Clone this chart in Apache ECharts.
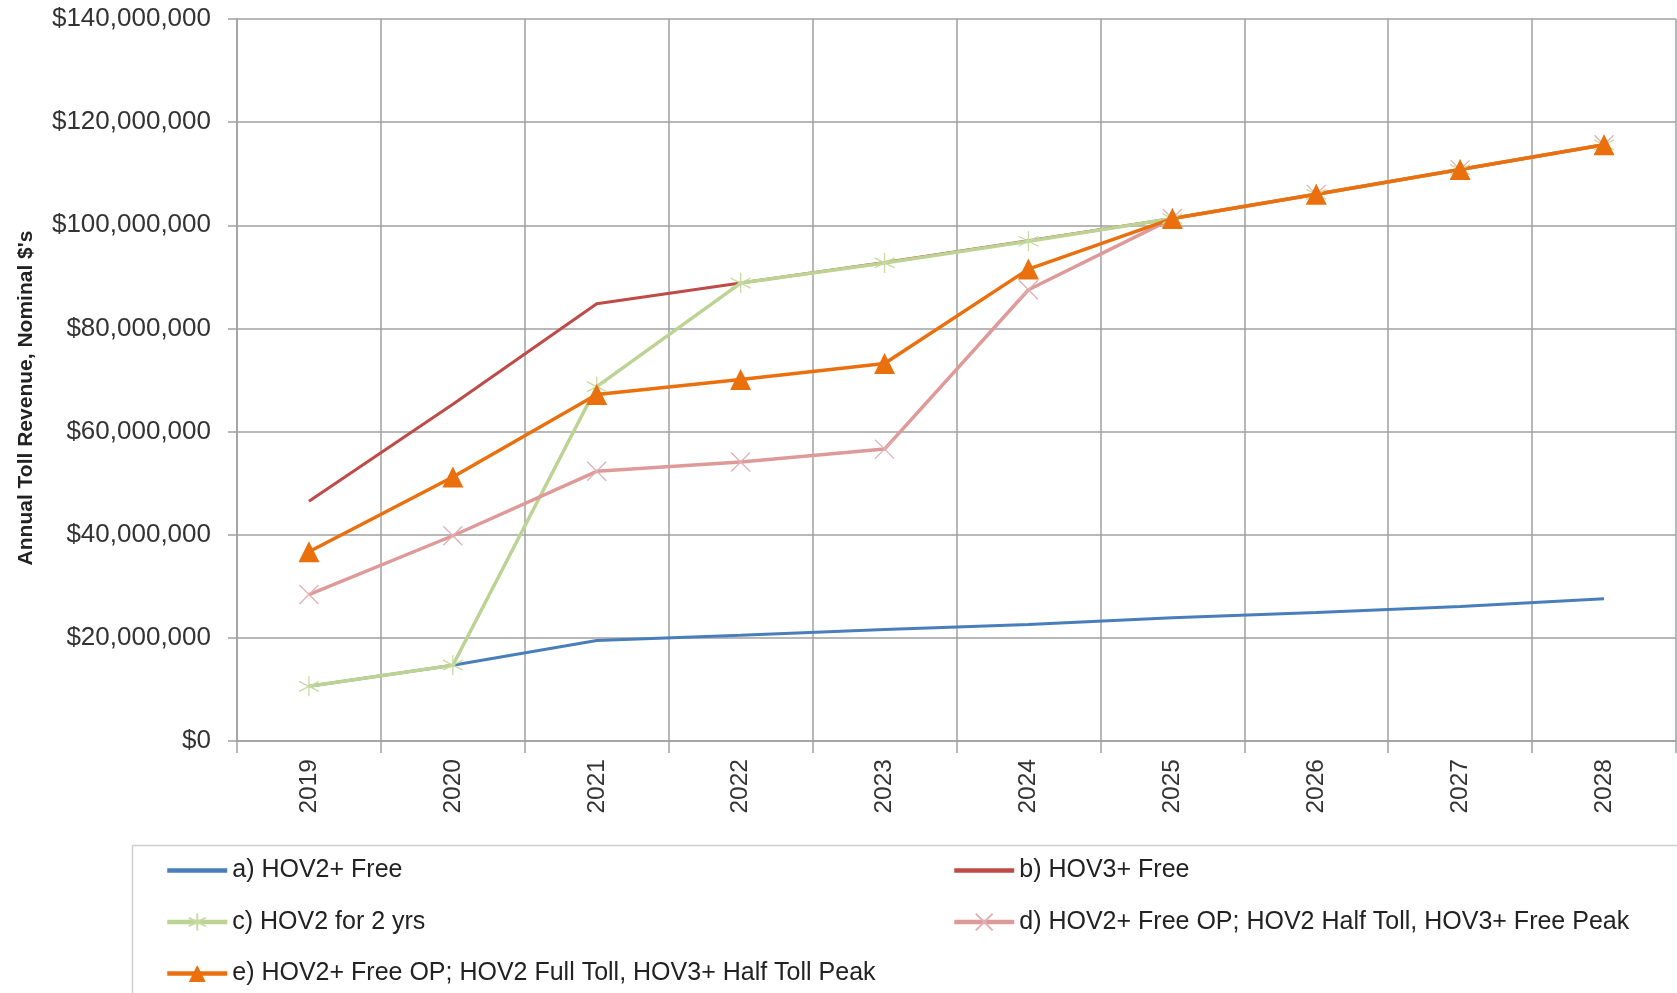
<!DOCTYPE html>
<html>
<head>
<meta charset="utf-8">
<script src="https://cdn.jsdelivr.net/npm/echarts@6/dist/echarts.min.js"></script>
<style>
html,body{margin:0;padding:0;background:#fff;}
#c{width:1677px;height:993px;}
</style>
</head>
<body>
<div id="c"></div>
<script>
const years = ['2019','2020','2021','2022','2023','2024','2025','2026','2027','2028'];
const seriesNames = [
  'a) HOV2+ Free',
  'b) HOV3+ Free',
  'c) HOV2 for 2 yrs',
  'd) HOV2+ Free OP; HOV2 Half Toll, HOV3+ Free Peak',
  'e) HOV2+ Free OP; HOV2 Full Toll, HOV3+ Half Toll Peak'
];
const hov2Free =      [10600000, 14700000, 19500000, 20500000, 21600000, 22600000, 23900000, 24900000, 26100000, 27600000];
const hov3Free =      [46500000, 65300000, 84800000, 88800000, 92800000, 97000000, 101300000, 106000000, 110800000, 115600000];
const hov2For2Yrs =   [10600000, 14700000, 68700000, 88800000, 92700000, 96900000, 101300000, 106000000, 110800000, 115600000];
const halfTollPeak =  [28400000, 39800000, 52300000, 54100000, 56600000, 87500000, 101300000, 106000000, 110800000, 115600000];
const fullTollPeak =  [36700000, 51200000, 67200000, 70100000, 73200000, 91500000, 101300000, 106000000, 110800000, 115600000];
const yTicks = [0, 20000000, 40000000, 60000000, 80000000, 100000000, 120000000, 140000000];

const FONT = 'Liberation Sans';
const gridColor = '#a0a0a0';
const asterisk = 'path://M0,-10L0,10M-8.7,-5L8.7,5M-8.7,5L8.7,-5';
const cross = 'path://M-10,-10L10,10M-10,10L10,-10';

const chart = echarts.init(document.getElementById('c'));
chart.setOption({
  animation: false,
  backgroundColor: '#fff',
  grid: {left: 237, right: 1, top: 19, bottom: 252, containLabel: false},
  xAxis: {
    type: 'category',
    data: years,
    boundaryGap: true,
    axisLine: {lineStyle: {color: gridColor, width: 1.5}},
    axisTick: {show: true, length: 12, lineStyle: {color: gridColor, width: 1.5}},
    splitLine: {show: true, lineStyle: {color: gridColor, width: 1.5}},
    axisLabel: {rotate: 90, margin: 18, fontFamily: FONT, fontSize: 24.5, color: '#333'}
  },
  yAxis: {
    type: 'value',
    min: yTicks[0],
    max: yTicks[yTicks.length - 1],
    interval: yTicks[1] - yTicks[0],
    name: "Annual Toll Revenue, Nominal $'s",
    nameLocation: 'middle',
    nameGap: 200,
    nameTextStyle: {fontFamily: FONT, fontSize: 21, fontWeight: 'bold', color: '#222', padding: [0, 36, 0, 0]},
    axisLine: {show: true, lineStyle: {color: gridColor, width: 1.5}},
    axisTick: {show: true, length: 9, lineStyle: {color: gridColor, width: 1.5}},
    splitLine: {show: true, lineStyle: {color: gridColor, width: 1.5}},
    axisLabel: {
      margin: 26, fontFamily: FONT, fontSize: 26, color: '#333',
      formatter: v => '$' + v.toLocaleString('en-US')
    }
  },
  legend: [
    {
      data: [seriesNames[0], seriesNames[2], seriesNames[4]],
      orient: 'vertical', left: 160, top: 853, itemGap: 26.5,
      itemWidth: 60, itemHeight: 21,
      lineStyle: {width: 4.5},
      textStyle: {fontFamily: FONT, fontSize: 25, color: '#222'}
    },
    {
      data: [seriesNames[1], seriesNames[3]],
      orient: 'vertical', left: 947, top: 853, itemGap: 26.5,
      itemWidth: 60, itemHeight: 21,
      lineStyle: {width: 4.5},
      textStyle: {fontFamily: FONT, fontSize: 25, color: '#222'}
    }
  ],
  graphic: [{
    type: 'rect', left: 130, top: 843, silent: true,
    shape: {width: 1560, height: 170},
    style: {fill: 'none', stroke: '#cfcfcf', lineWidth: 1.5}
  }],
  series: [
    {
      name: seriesNames[0], type: 'line', data: hov2Free,
      symbol: 'line', showSymbol: false, lineStyle: {color: '#4a7ebb', width: 3},
      itemStyle: {color: '#4a7ebb'}
    },
    {
      name: seriesNames[1], type: 'line', data: hov3Free,
      symbol: 'line', showSymbol: false, lineStyle: {color: '#be4b48', width: 3},
      itemStyle: {color: '#be4b48'}
    },
    {
      name: seriesNames[2], type: 'line', data: hov2For2Yrs,
      symbol: asterisk, symbolSize: 20,
      lineStyle: {color: '#bcd393', width: 3.5},
      itemStyle: {color: '#bcd393', borderColor: '#c6dba2', borderWidth: 1.3}
    },
    {
      name: seriesNames[3], type: 'line', data: halfTollPeak,
      symbol: cross, symbolSize: 19,
      lineStyle: {color: '#dd9a98', width: 3.5},
      itemStyle: {color: '#dd9a98', borderColor: '#e0b0b6', borderWidth: 1.3}
    },
    {
      name: seriesNames[4], type: 'line', data: fullTollPeak,
      symbol: 'triangle', symbolSize: 21,
      lineStyle: {color: '#ea700e', width: 3.5},
      itemStyle: {color: '#ea700e'}
    }
  ]
});
</script>
</body>
</html>
